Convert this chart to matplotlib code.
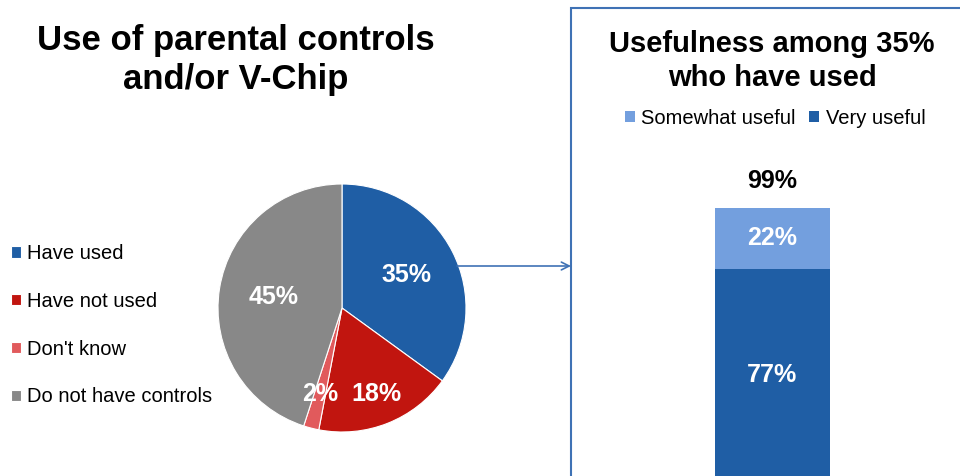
import matplotlib
matplotlib.use("Agg")
import matplotlib.pyplot as plt
from matplotlib.patches import Rectangle
import numpy as np

plt.rcParams['font.family'] = ['Liberation Sans', 'DejaVu Sans']

# ---- data ----
pie_labels = ["Have used", "Have not used", "Don't know", "Do not have controls"]
pie_values = [35, 18, 2, 45]
pie_colors = ["#1F5EA5", "#C1150F", "#E15A5C", "#888888"]

bar_series = ["Somewhat useful", "Very useful"]
bar_very = [77]
bar_somewhat = [22]
bar_total = [99]
bar_colors = {"Somewhat useful": "#739FDE", "Very useful": "#1F5EA5"}

W, H = 960, 476
fig = plt.figure(figsize=(W / 100, H / 100), dpi=100)
fig.patch.set_facecolor("white")

def px_rect(left, top, width, height):
    return [left / W, (H - top - height) / H, width / W, height / H]

# ---- pie ----
cx, cy, r = 342, 308, 124
ax_pie = fig.add_axes(px_rect(cx - r, cy - r, 2 * r, 2 * r))
wedges, _ = ax_pie.pie(pie_values, colors=pie_colors, startangle=90, counterclock=False,
                       wedgeprops=dict(edgecolor="white", linewidth=0.8))
ax_pie.set_xlim(-1, 1)
ax_pie.set_ylim(-1, 1)
ax_pie.set_aspect("equal")
ax_pie.axis("off")

label_r = [0.58, 0.75, 0.72, 0.56]
for w, v, lr in zip(wedges, pie_values, label_r):
    ang = np.deg2rad((w.theta1 + w.theta2) / 2)
    ax_pie.text(lr * np.cos(ang), lr * np.sin(ang), f"{v}%", ha="center", va="center",
                color="white", fontsize=18, fontweight="bold")

ax_pie.legend(wedges, pie_labels, loc="upper left",
              bbox_to_anchor=(3 / W, (H - 236) / H), bbox_transform=fig.transFigure,
              frameon=False, fontsize=14.5, handlelength=0.5, handleheight=0.5,
              handletextpad=0.3, labelspacing=1.43, borderaxespad=0)

fig.text(236 / W, 1 - 60 / H, "Use of parental controls\nand/or V-Chip", ha="center", va="center",
         fontsize=25, fontweight="bold", linespacing=1.2)

# ---- arrow ----
ax_pie.annotate("", xy=(571, H - 266), xycoords="figure pixels",
                xytext=(457, H - 266), textcoords="figure pixels",
                arrowprops=dict(arrowstyle="->", color="#3F72B5", lw=1.2,
                                mutation_scale=14, shrinkA=0, shrinkB=0))

# ---- right panel ----
fig.add_artist(Rectangle((571 / W, -0.1), 1, 0.1 + (H - 8) / H, transform=fig.transFigure,
                         fill=False, edgecolor="#3F72B5", linewidth=1.5))

ax_bar = fig.add_axes(px_rect(571, 8, 389, 468))
ax_bar.set_xlim(571 - 772.5, 960 - 772.5)
scale = 274 / 99.0
ax_bar.set_ylim((482 - 476) / scale, (482 - 8) / scale)
ax_bar.axis("off")
x = [0]
b_very = ax_bar.bar(x, bar_very, width=115, color=bar_colors["Very useful"], label="Very useful")
b_some = ax_bar.bar(x, bar_somewhat, bottom=bar_very, width=115,
                    color=bar_colors["Somewhat useful"], label="Somewhat useful")
for xi, v, s, t in zip(x, bar_very, bar_somewhat, bar_total):
    ax_bar.text(xi, v / 2, f"{v}%", ha="center", va="center", color="white",
                fontsize=18, fontweight="bold")
    ax_bar.text(xi, v + s / 2, f"{s}%", ha="center", va="center", color="white",
                fontsize=18, fontweight="bold")
    ax_bar.text(xi, t + 27 / scale, f"{t}%", ha="center", va="center", color="black",
                fontsize=18, fontweight="bold")

ax_bar.legend(handles=[b_some, b_very], labels=bar_series, ncol=2, loc="center",
              bbox_to_anchor=(775 / W, (H - 118) / H), bbox_transform=fig.transFigure,
              frameon=False, fontsize=14.5, handlelength=0.5, handleheight=0.5,
              handletextpad=0.3, columnspacing=0.7, borderaxespad=0)

fig.text(772 / W, 1 - 61 / H, "Usefulness among 35%\nwho have used", ha="center", va="center",
         fontsize=21, fontweight="bold", linespacing=1.25)

fig.savefig("out.png", dpi=100, facecolor="white")
